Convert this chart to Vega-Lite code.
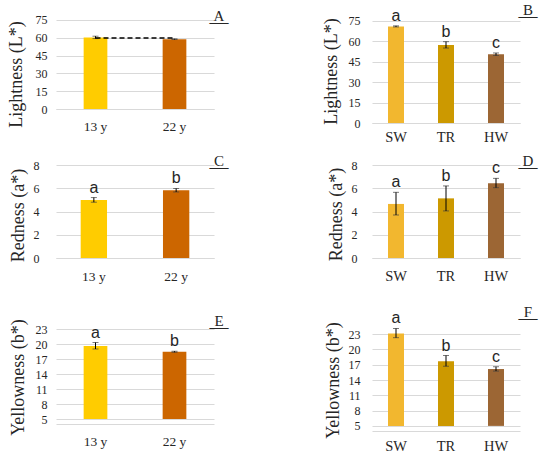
{
  "$schema": "https://vega.github.io/schema/vega-lite/v6.json",
  "padding": {"left": 7, "top": 2, "right": 5, "bottom": 0},
  "background": "white",
  "datasets": {
    "bars": [
      {"panel": "A", "group": "13 y", "value": 60.3, "lo": 59.3, "hi": 61.3, "letter": ""},
      {"panel": "A", "group": "22 y", "value": 58.8, "lo": 58.5, "hi": 59.1, "letter": ""},
      {"panel": "B", "group": "SW", "value": 70.9, "lo": 70.5, "hi": 71.3, "letter": "a"},
      {"panel": "B", "group": "TR", "value": 57.3, "lo": 55.0, "hi": 59.7, "letter": "b"},
      {"panel": "B", "group": "HW", "value": 50.5, "lo": 49.6, "hi": 51.4, "letter": "c"},
      {"panel": "C", "group": "13 y", "value": 5.0, "lo": 4.8, "hi": 5.2, "letter": "a"},
      {"panel": "C", "group": "22 y", "value": 5.83, "lo": 5.68, "hi": 5.98, "letter": "b"},
      {"panel": "D", "group": "SW", "value": 4.65, "lo": 3.7, "hi": 5.65, "letter": "a"},
      {"panel": "D", "group": "TR", "value": 5.13, "lo": 4.05, "hi": 6.2, "letter": "b"},
      {"panel": "D", "group": "HW", "value": 6.43, "lo": 6.05, "hi": 6.85, "letter": "c"},
      {"panel": "E", "group": "13 y", "value": 19.6, "lo": 19.0, "hi": 20.3, "letter": "a"},
      {"panel": "E", "group": "22 y", "value": 18.45, "lo": 18.35, "hi": 18.55, "letter": "b"},
      {"panel": "F", "group": "SW", "value": 23.1, "lo": 22.3, "hi": 24.1, "letter": "a"},
      {"panel": "F", "group": "TR", "value": 17.7, "lo": 16.7, "hi": 18.8, "letter": "b"},
      {"panel": "F", "group": "HW", "value": 16.15, "lo": 15.75, "hi": 16.6, "letter": "c"}
    ],
    "dash": [
      {"group": "13 y", "value": 59.8},
      {"group": "22 y", "value": 59.8}
    ]
  },
  "config": {
    "view": {"stroke": null},
    "axis": {
      "labelFont": "Liberation Serif",
      "titleFont": "Liberation Serif",
      "labelColor": "#262626",
      "titleColor": "#262626",
      "titleFontWeight": "normal",
      "ticks": false,
      "labelOverlap": false
    },
    "axisX": {
      "domainColor": "#D9D9D9",
      "grid": false,
      "labelAngle": 0,
      "labelFontSize": 13.5,
      "title": null
    },
    "axisY": {
      "domain": false,
      "gridColor": "#D9D9D9",
      "labelFontSize": 12,
      "titleFontSize": 18,
      "titleAlign": "center",
      "titleBaseline": "middle",
      "titleAngle": 270
    },
    "title": {
      "font": "Liberation Serif",
      "fontSize": 15,
      "fontWeight": "normal",
      "color": "#262626",
      "anchor": "middle",
      "frame": "group",
      "offset": -18,
      "subtitleFont": "Liberation Serif",
      "subtitleFontSize": 19,
      "subtitleColor": "#262626",
      "subtitlePadding": -11
    },
    "text": {"font": "Liberation Sans", "fontSize": 16, "baseline": "bottom", "dy": -2, "color": "#262626"},
    "errorbar": {"color": "#404040", "ticks": {"size": 6, "color": "#404040"}}
  },
  "hconcat": [
    {
      "vconcat": [
        {
          "width": 158, "height": 95,
          "title": {"text": "A", "subtitle": "—", "dx": 84},
          "data": {"name": "bars"},
          "transform": [{"filter": "datum.panel == 'A'"}],
          "encoding": {
            "x": {"field": "group", "type": "nominal", "sort": ["13 y", "22 y"], "scale": {"paddingInner": 0.7, "paddingOuter": 0.35}, "axis": {"labelPadding": 10}}
          },
          "layer": [
            {
              "mark": "bar",
              "encoding": {
                "y": {"field": "value", "type": "quantitative", "title": "Lightness (L*)", "scale": {"domain": [0, 75]}, "axis": {"values": [0, 15, 30, 45, 60, 75], "labelPadding": 9, "titleX": -40, "titleY": 60}},
                "color": {"field": "group", "type": "nominal", "scale": {"domain": ["13 y", "22 y", "SW", "TR", "HW"], "range": ["#FFCC00", "#CC6600", "#F2B72F", "#CC9900", "#9C6634"]}, "legend": null}
              }
            },
            {
              "mark": {"type": "errorbar", "ticks": true},
              "encoding": {"y": {"field": "lo", "type": "quantitative", "title": "Lightness (L*)", "axis": {"values": [0, 15, 30, 45, 60, 75], "labelPadding": 9, "titleX": -40, "titleY": 60}}, "y2": {"field": "hi"}}
            },
            {
              "data": {"name": "dash"},
              "mark": {"type": "line", "color": "#000000", "strokeDash": [5, 3], "strokeWidth": 1.5},
              "encoding": {"y": {"field": "value", "type": "quantitative", "title": "Lightness (L*)", "axis": {"values": [0, 15, 30, 45, 60, 75], "labelPadding": 9, "titleX": -40, "titleY": 60}}}
            }
          ]
        },
        {
          "vconcat": [
            {
              "width": 158, "height": 93,
              "title": {"text": "C", "subtitle": "—", "dx": 84},
              "data": {"name": "bars"},
              "transform": [{"filter": "datum.panel == 'C'"}],
              "encoding": {
                "x": {"field": "group", "type": "nominal", "sort": ["13 y", "22 y"], "scale": {"paddingInner": 0.68, "paddingOuter": 0.3}, "axis": {"labelPadding": 11}}
              },
              "layer": [
                {
                  "mark": "bar",
                  "encoding": {
                    "y": {"field": "value", "type": "quantitative", "title": "Redness (a*)", "scale": {"domain": [0, 8]}, "axis": {"values": [0, 2, 4, 6, 8], "labelPadding": 17, "titleX": -38, "titleY": 50}},
                    "color": {"field": "group", "type": "nominal", "scale": {"domain": ["13 y", "22 y", "SW", "TR", "HW"], "range": ["#FFCC00", "#CC6600", "#F2B72F", "#CC9900", "#9C6634"]}, "legend": null}
                  }
                },
                {
                  "mark": {"type": "errorbar", "ticks": true},
                  "encoding": {"y": {"field": "lo", "type": "quantitative", "title": "Redness (a*)", "axis": {"values": [0, 2, 4, 6, 8], "labelPadding": 17, "titleX": -38, "titleY": 50}}, "y2": {"field": "hi"}}
                },
                {
                  "mark": "text",
                  "encoding": {"y": {"field": "hi", "type": "quantitative", "title": "Redness (a*)", "axis": {"values": [0, 2, 4, 6, 8], "labelPadding": 17, "titleX": -38, "titleY": 50}}, "text": {"field": "letter"}}
                }
              ]
            },
            {
              "width": 158, "height": 100,
              "title": {"text": "E", "subtitle": "—", "dx": 84},
              "data": {"name": "bars"},
              "transform": [{"filter": "datum.panel == 'E'"}],
              "encoding": {
                "x": {"field": "group", "type": "nominal", "sort": ["13 y", "22 y"], "scale": {"paddingInner": 0.7, "paddingOuter": 0.35}, "axis": {"labelPadding": 10}}
              },
              "layer": [
                {
                  "mark": "bar",
                  "encoding": {
                    "y": {"field": "value", "type": "quantitative", "title": "Yellowness (b*)", "scale": {"domain": [5, 23], "zero": false}, "axis": {"values": [5, 8, 11, 14, 17, 20, 23], "labelPadding": 9, "titleX": -38, "titleY": 53}},
                    "y2": {"datum": 5},
                    "color": {"field": "group", "type": "nominal", "scale": {"domain": ["13 y", "22 y", "SW", "TR", "HW"], "range": ["#FFCC00", "#CC6600", "#F2B72F", "#CC9900", "#9C6634"]}, "legend": null}
                  }
                },
                {
                  "mark": {"type": "errorbar", "ticks": true},
                  "encoding": {"y": {"field": "lo", "type": "quantitative", "title": "Yellowness (b*)", "axis": {"values": [5, 8, 11, 14, 17, 20, 23], "labelPadding": 9, "titleX": -38, "titleY": 53}}, "y2": {"field": "hi"}}
                },
                {
                  "mark": "text",
                  "encoding": {"y": {"field": "hi", "type": "quantitative", "title": "Yellowness (b*)", "axis": {"values": [5, 8, 11, 14, 17, 20, 23], "labelPadding": 9, "titleX": -38, "titleY": 53}}, "text": {"field": "letter"}}
                }
              ]
            }
          ],
          "spacing": 66,
          "bounds": "flush"
        }
      ],
      "spacing": 56,
      "bounds": "flush"
    },
    {
      "vconcat": [
        {
          "width": 148, "height": 109,
          "title": {"text": "B", "subtitle": "—", "dx": 82},
          "data": {"name": "bars"},
          "transform": [{"filter": "datum.panel == 'B'"}],
          "encoding": {
            "x": {"field": "group", "type": "nominal", "sort": ["SW", "TR", "HW"], "scale": {"paddingInner": 0.68, "paddingOuter": 0.32}, "axis": {"labelPadding": 7, "labelFontSize": 14.5}}
          },
          "layer": [
            {
              "mark": "bar",
              "encoding": {
                "y": {"field": "value", "type": "quantitative", "title": "Lightness (L*)", "scale": {"domain": [0, 75]}, "axis": {"values": [0, 15, 30, 45, 60, 75], "labelPadding": 12, "titleX": -41, "titleY": 57}},
                "color": {"field": "group", "type": "nominal", "scale": {"domain": ["13 y", "22 y", "SW", "TR", "HW"], "range": ["#FFCC00", "#CC6600", "#F2B72F", "#CC9900", "#9C6634"]}, "legend": null}
              }
            },
            {
              "mark": {"type": "errorbar", "ticks": true},
              "encoding": {"y": {"field": "lo", "type": "quantitative", "title": "Lightness (L*)", "axis": {"values": [0, 15, 30, 45, 60, 75], "labelPadding": 12, "titleX": -41, "titleY": 57}}, "y2": {"field": "hi"}}
            },
            {
              "mark": "text",
              "encoding": {"y": {"field": "hi", "type": "quantitative", "title": "Lightness (L*)", "axis": {"values": [0, 15, 30, 45, 60, 75], "labelPadding": 12, "titleX": -41, "titleY": 57}}, "text": {"field": "letter"}}
            }
          ]
        },
        {
          "vconcat": [
            {
              "width": 148, "height": 93,
              "title": {"text": "D", "subtitle": "—", "dx": 82},
              "data": {"name": "bars"},
              "transform": [{"filter": "datum.panel == 'D'"}],
              "encoding": {
                "x": {"field": "group", "type": "nominal", "sort": ["SW", "TR", "HW"], "scale": {"paddingInner": 0.68, "paddingOuter": 0.32}, "axis": {"labelPadding": 11, "labelFontSize": 14.5}}
              },
              "layer": [
                {
                  "mark": "bar",
                  "encoding": {
                    "y": {"field": "value", "type": "quantitative", "title": "Redness (a*)", "scale": {"domain": [0, 8]}, "axis": {"values": [0, 2, 4, 6, 8], "labelPadding": 15, "titleX": -36, "titleY": 49}},
                    "color": {"field": "group", "type": "nominal", "scale": {"domain": ["13 y", "22 y", "SW", "TR", "HW"], "range": ["#FFCC00", "#CC6600", "#F2B72F", "#CC9900", "#9C6634"]}, "legend": null}
                  }
                },
                {
                  "mark": {"type": "errorbar", "ticks": true},
                  "encoding": {"y": {"field": "lo", "type": "quantitative", "title": "Redness (a*)", "axis": {"values": [0, 2, 4, 6, 8], "labelPadding": 15, "titleX": -36, "titleY": 49}}, "y2": {"field": "hi"}}
                },
                {
                  "mark": "text",
                  "encoding": {"y": {"field": "hi", "type": "quantitative", "title": "Redness (a*)", "axis": {"values": [0, 2, 4, 6, 8], "labelPadding": 15, "titleX": -36, "titleY": 49}}, "text": {"field": "letter"}}
                }
              ]
            },
            {
              "width": 148, "height": 102,
              "title": {"text": "F", "subtitle": "—", "dx": 82},
              "data": {"name": "bars"},
              "transform": [{"filter": "datum.panel == 'F'"}],
              "encoding": {
                "x": {"field": "group", "type": "nominal", "sort": ["SW", "TR", "HW"], "scale": {"paddingInner": 0.68, "paddingOuter": 0.32}, "axis": {"labelPadding": 8, "labelFontSize": 14.5}}
              },
              "layer": [
                {
                  "mark": "bar",
                  "encoding": {
                    "y": {"field": "value", "type": "quantitative", "title": "Yellowness (b*)", "scale": {"domain": [5, 23], "zero": false}, "axis": {"values": [5, 8, 11, 14, 17, 20, 23], "labelPadding": 12, "titleX": -39, "titleY": 51}},
                    "y2": {"datum": 5},
                    "color": {"field": "group", "type": "nominal", "scale": {"domain": ["13 y", "22 y", "SW", "TR", "HW"], "range": ["#FFCC00", "#CC6600", "#F2B72F", "#CC9900", "#9C6634"]}, "legend": null}
                  }
                },
                {
                  "mark": {"type": "errorbar", "ticks": true},
                  "encoding": {"y": {"field": "lo", "type": "quantitative", "title": "Yellowness (b*)", "axis": {"values": [5, 8, 11, 14, 17, 20, 23], "labelPadding": 12, "titleX": -39, "titleY": 51}}, "y2": {"field": "hi"}}
                },
                {
                  "mark": "text",
                  "encoding": {"y": {"field": "hi", "type": "quantitative", "title": "Yellowness (b*)", "axis": {"values": [5, 8, 11, 14, 17, 20, 23], "labelPadding": 12, "titleX": -39, "titleY": 51}}, "text": {"field": "letter"}}
                }
              ]
            }
          ],
          "spacing": 71,
          "bounds": "flush"
        }
      ],
      "spacing": 42,
      "bounds": "flush"
    }
  ],
  "spacing": 316,
  "bounds": "flush"
}
